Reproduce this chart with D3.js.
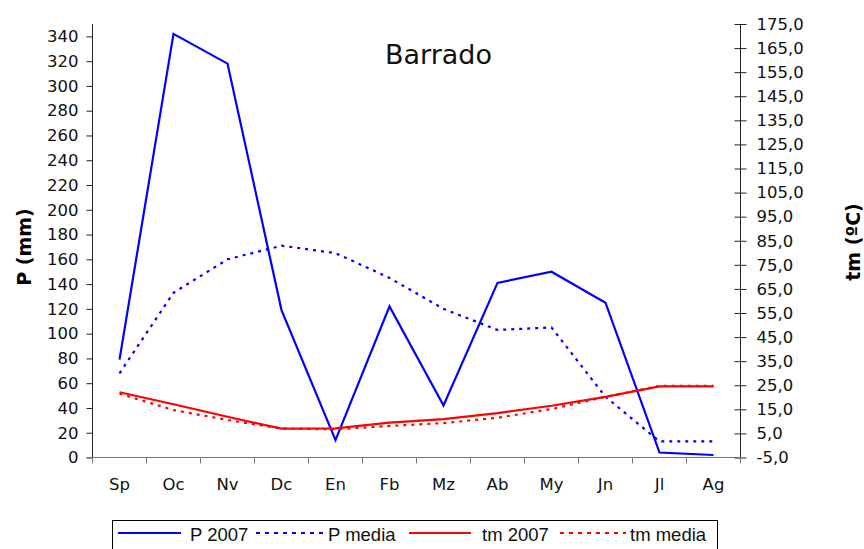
<!DOCTYPE html>
<html>
<head>
<meta charset="utf-8">
<script src="https://cdn.jsdelivr.net/npm/d3@7"></script>
<style>
  body { margin: 0; background: #fff; }
  svg { display: block; }
</style>
</head>
<body>
<svg id="chart" width="864" height="549"></svg>
<script>
// data
const months = ["Sp", "Oc", "Nv", "Dc", "En", "Fb", "Mz", "Ab", "My", "Jn", "Jl", "Ag"];
const p2007 = [79, 342, 318, 119, 14, 122, 42, 141, 150, 125, 4, 2];
const pMedia = [68, 133, 160, 171, 165, 145, 120, 103, 105, 49, 13, 13];
const tm2007 = [22.1, 17.1, 11.9, 7.0, 7.1, 9.5, 10.9, 13.4, 16.5, 20.2, 24.5, 24.5];
const tmMedia = [21.5, 14.7, 10.6, 7.0, 6.7, 8.1, 9.3, 11.5, 15.1, 20.2, 24.7, 24.7];
const pTicks = d3.range(0, 341, 20);
const tmTicks = d3.range(-5, 176, 10);

const svg = d3.select("#chart");
const plotL = 92.5, plotR = 740.5, plotT = 24, plotB = 457.5;

const x = d3.scaleBand().domain(months).range([plotL, plotR]);
const yP = d3.scaleLinear().domain([0, 350]).range([plotB, plotT]);
const yT = d3.scaleLinear().domain([-5, 175]).range([plotB, plotT]);
const cx = d => x(d) + x.bandwidth() / 2;

const tickFont = "DejaVu Sans, Verdana, sans-serif";

// left axis
const gL = svg.append("g").attr("transform", `translate(${plotL},0)`)
  .call(d3.axisLeft(yP).tickValues(pTicks).tickSize(6).tickPadding(8));
gL.select(".domain").attr("d", `M0,${plotT}V${plotB}`).attr("stroke", "#222");
gL.selectAll(".tick line").attr("stroke", "#222");
gL.selectAll("text").attr("font-family", tickFont).attr("font-size", 16.5).attr("fill", "#111");

// right axis, ticks crossing the line
const gR = svg.append("g").attr("transform", `translate(${plotR},0)`)
  .call(d3.axisRight(yT).tickValues(tmTicks).tickSize(6).tickPadding(10)
    .tickFormat(d => d3.format(".1f")(d).replace(".", ",").replace("−", "-")));
gR.select(".domain").attr("d", `M0,${plotT}V${plotB}`).attr("stroke", "#222");
gR.selectAll(".tick line").attr("x1", -6).attr("stroke", "#222");
gR.selectAll("text").attr("font-family", tickFont).attr("font-size", 16.5).attr("fill", "#111");

// bottom axis: ticks between categories
const gB = svg.append("g").attr("transform", `translate(0,${plotB})`);
gB.append("line").attr("x1", plotL - 6).attr("x2", plotR).attr("stroke", "#777");
gB.selectAll("line.tk").data(d3.range(months.length + 1)).join("line")
  .attr("class", "tk")
  .attr("x1", i => plotL + i * x.bandwidth()).attr("x2", i => plotL + i * x.bandwidth())
  .attr("y1", 0).attr("y2", 6).attr("stroke", "#777");
gB.selectAll("text").data(months).join("text")
  .attr("x", cx).attr("y", 32)
  .attr("text-anchor", "middle")
  .attr("font-family", tickFont).attr("font-size", 16.5).attr("fill", "#111")
  .text(d => d);

// series
const series = [
  { name: "P 2007", values: p2007, scale: yP, color: "#0000ff", dash: null },
  { name: "P media", values: pMedia, scale: yP, color: "#0000ff", dash: "3,5" },
  { name: "tm 2007", values: tm2007, scale: yT, color: "#ff0000", dash: null },
  { name: "tm media", values: tmMedia, scale: yT, color: "#ff0000", dash: "3,5" }
];

series.forEach(s => {
  const line = d3.line().x((d, i) => cx(months[i])).y(d => s.scale(d));
  svg.append("path")
    .attr("d", line(s.values))
    .attr("fill", "none")
    .attr("stroke", s.color)
    .attr("stroke-width", 2.2)
    .attr("stroke-dasharray", s.dash);
});

// title
svg.append("text").attr("x", 385).attr("y", 64)
  .attr("font-family", tickFont).attr("font-size", 27).attr("fill", "#111")
  .text("Barrado");

// axis titles
svg.append("text")
  .attr("transform", "translate(31,247) rotate(-90)")
  .attr("text-anchor", "middle")
  .attr("font-family", tickFont).attr("font-weight", "bold").attr("font-size", 19)
  .text("P (mm)");
svg.append("text")
  .attr("transform", "translate(860,242) rotate(-90)")
  .attr("text-anchor", "middle")
  .attr("font-family", tickFont).attr("font-weight", "bold").attr("font-size", 19)
  .text("tm (ºC)");

// legend
const legend = svg.append("g");
legend.append("rect").attr("x", 112.5).attr("y", 520.5).attr("width", 605).attr("height", 40)
  .attr("fill", "#fff").attr("stroke", "#000");
const legPos = [
  { x1: 118, x2: 181, tx: 190 },
  { x1: 256, x2: 324, tx: 328 },
  { x1: 409, x2: 471, tx: 482 },
  { x1: 560, x2: 626, tx: 630 }
];
series.forEach((s, i) => {
  const p = legPos[i];
  legend.append("line").attr("x1", p.x1).attr("x2", p.x2).attr("y1", 533).attr("y2", 533)
    .attr("stroke", s.color).attr("stroke-width", 2).attr("stroke-dasharray", s.dash ? "4,5" : null);
  legend.append("text").attr("x", p.tx).attr("y", 541)
    .attr("font-family", "Liberation Sans, Arial, sans-serif").attr("font-size", 18.5)
    .attr("fill", "#111")
    .text(s.name);
});
</script>
</body>
</html>
